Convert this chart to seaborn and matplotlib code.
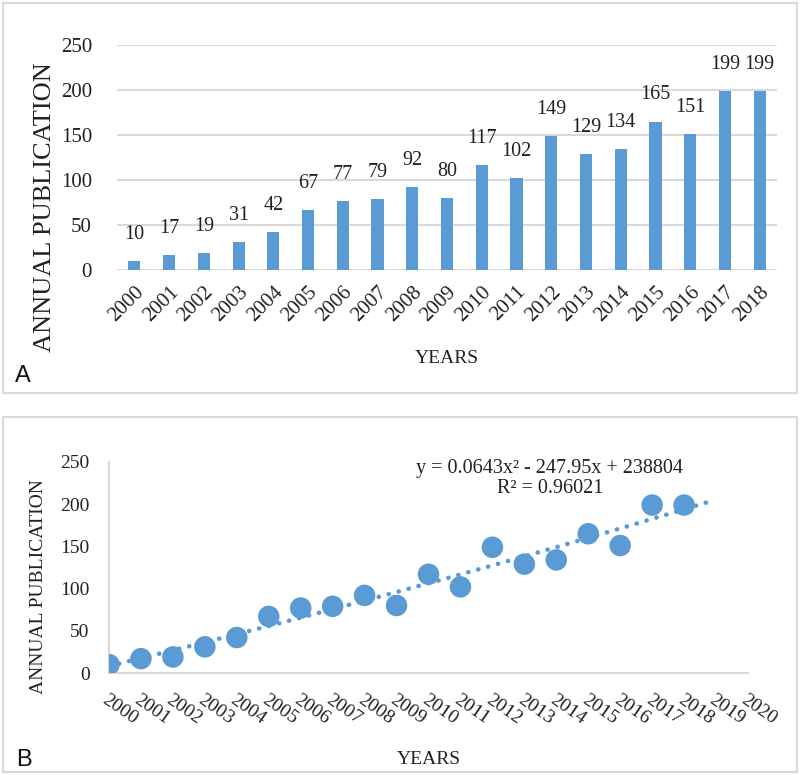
import numpy as np
import pandas as pd
import matplotlib
matplotlib.use("Agg")
import matplotlib.pyplot as plt
import seaborn as sns
from matplotlib.patches import Rectangle

years = [2000, 2001, 2002, 2003, 2004, 2005, 2006, 2007, 2008, 2009,
         2010, 2011, 2012, 2013, 2014, 2015, 2016, 2017, 2018]
publications = [10, 17, 19, 31, 42, 67, 77, 79, 92, 80,
                117, 102, 149, 129, 134, 165, 151, 199, 199]
yticks = [0, 50, 100, 150, 200, 250]
b_xticks = list(range(2000, 2021))
equation_text = "y = 0.0643x\u00b2 - 247.95x + 238804\nR\u00b2 = 0.96021"

sns.set_theme(style="white")
plt.rcParams['font.family'] = ['Liberation Serif', 'DejaVu Serif']

BLUE = "#5B9BD5"
GRID = "#D9D9D9"
TXT = "#222222"

df = pd.DataFrame({"year": [str(y) for y in years], "pubs": publications})

fig = plt.figure(figsize=(8, 7.75), dpi=100)

# panel frames
fig.patches.append(Rectangle((3/800, 1-393/775), 794/800, 390/775, transform=fig.transFigure,
                             fill=False, edgecolor=GRID, linewidth=1.5))
fig.patches.append(Rectangle((3/800, 1-772/775), 794/800, 355/775, transform=fig.transFigure,
                             fill=False, edgecolor=GRID, linewidth=1.5))

# ---------- Panel A ----------
axA = fig.add_axes([117/800, 1-270/775, 660/800, 225/775])
sns.barplot(data=df, x="year", y="pubs", ax=axA, color=BLUE, width=0.35,
            saturation=1, edgecolor="none")
axA.set_ylim(0, 250)
axA.set_yticks(yticks)
axA.yaxis.grid(True, color=GRID, linewidth=1.5)
axA.set_axisbelow(True)
for s in axA.spines.values():
    s.set_visible(False)
axA.tick_params(axis='both', length=0, labelsize=15, labelcolor=TXT)
axA.tick_params(axis='y', pad=18)
plt.setp(axA.get_xticklabels(), rotation=45, ha='right', rotation_mode='anchor')
axA.tick_params(axis='x', pad=9)
for i, v in enumerate(publications):
    axA.text(i, v + 19, str(v), ha='center', va='bottom', fontsize=14.5, color=TXT)
axA.set_xlabel("YEARS", fontsize=14, color=TXT)
axA.xaxis.set_label_coords(0.5, -0.355)
axA.set_ylabel("ANNUAL PUBLICATION", fontsize=19, color=TXT)
axA.yaxis.set_label_coords(-0.092, 0.28)

# ---------- Panel B ----------
axB = fig.add_axes([109/800, 1-673/775, 639/800, 211/775])
sns.scatterplot(x=years, y=publications, ax=axB, color=BLUE, s=240,
                edgecolor="none", zorder=3)
coef = np.polyfit(years, publications, 2)
xs = np.linspace(2000, 2018.8, 300)
axB.plot(xs, np.polyval(coef, xs), linestyle=(0, (0.05, 2.2)), color=BLUE,
         linewidth=3.3, dash_capstyle='round', zorder=2)
axB.set_xlim(2000, 2020)
axB.set_ylim(0, 250)
axB.set_yticks(yticks)
axB.set_xticks(b_xticks)
axB.set_xticklabels([str(y) for y in b_xticks])
for k in ['top', 'right']:
    axB.spines[k].set_visible(False)
for k in ['left', 'bottom']:
    axB.spines[k].set_color(GRID)
    axB.spines[k].set_linewidth(1.5)
axB.tick_params(axis='both', length=0, labelsize=14, labelcolor=TXT)
axB.tick_params(axis='y', pad=14)
plt.setp(axB.get_xticklabels(), rotation=-35, ha='left', va='top', rotation_mode='anchor')
axB.tick_params(axis='x', pad=13)
axB.set_xlabel("YEARS", fontsize=14, color=TXT)
axB.xaxis.set_label_coords(0.5, -0.37)
axB.set_ylabel("ANNUAL PUBLICATION", fontsize=14, color=TXT)
axB.yaxis.set_label_coords(-0.097, 0.41)
axB.text(2013.8, 253, equation_text, ha='center', va='top', fontsize=14.5,
         color=TXT, linespacing=1.05)

fig.text(15/800, 1-382/775, "A", fontsize=17, family='Liberation Sans', color="#111111")
fig.text(16/800, 1-766/775, "B", fontsize=17, family='Liberation Sans', color="#111111")

fig.savefig("out.png", dpi=100)
